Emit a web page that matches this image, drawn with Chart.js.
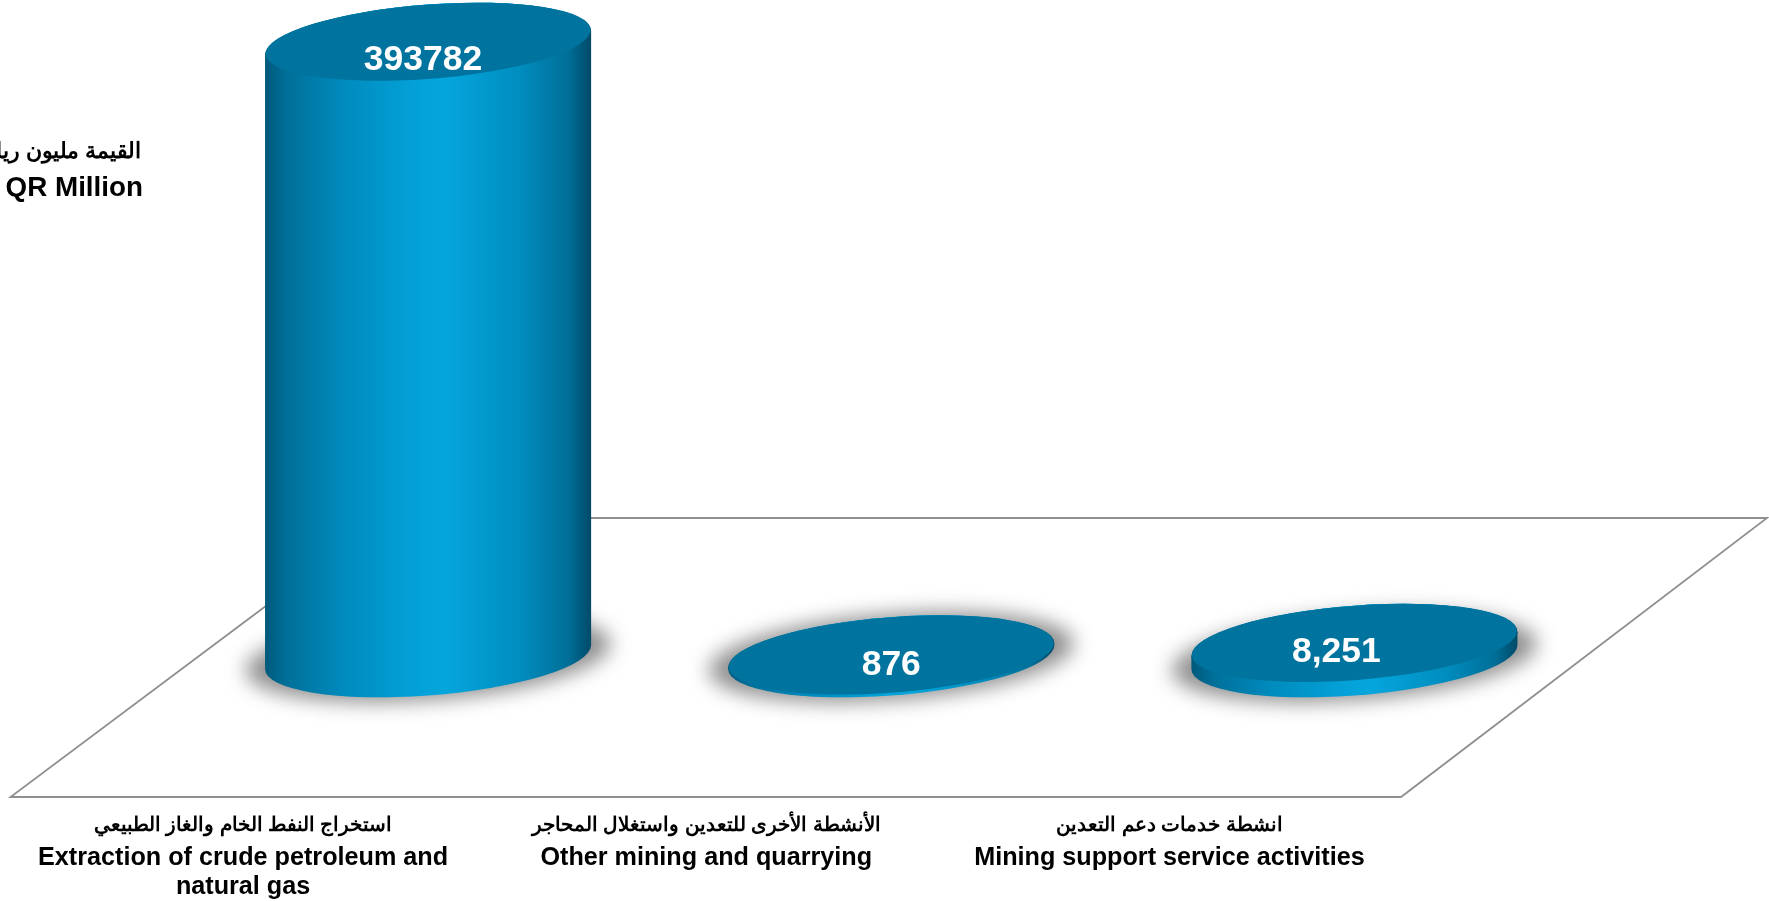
<!DOCTYPE html>
<html>
<head>
<meta charset="utf-8">
<script src="https://cdn.jsdelivr.net/npm/chart.js@4"></script>
<style>
    html, body { margin: 0; padding: 0; background: #fff; overflow: hidden; }
    canvas { display: block; }
</style>
</head>
<body>
<canvas id="chart-mining" width="1769" height="901"></canvas>
<script>
const categoriesAr = ['استخراج النفط الخام والغاز الطبيعي', 'الأنشطة الأخرى للتعدين واستغلال المحاجر', 'انشطة خدمات دعم التعدين'];
const categoriesEn = [['Extraction of crude petroleum and', 'natural gas'], ['Other mining and quarrying'], ['Mining support service activities']];
const values = [393782, 876, 8251];
const valueLabels = ['393782', '876', '8,251'];
const unitLabels = ['القيمة مليون ريال', 'QR Million'];

const FONT = '"Liberation Sans", Arial, sans-serif';
const SHEAR = 0.0736;      // tilt of the ellipses
const HALF_DEPTH = 38.5;   // vertical radius of the ellipses
const FRONT_SHIFT = 185;   // the floor front edge sits this far left of the bars
const LABEL_NUDGE = [[-5, 17], [0, 10], [-18, 8]];

// outline of one ellipse, in the sheared space of the column
function ellipsePath(ctx, y, rx, ry) {
    ctx.beginPath();
    ctx.ellipse(0, y, rx, ry, 0, 0, Math.PI * 2);
}

const cylinderPlugin = {
    id: 'cylinders',
    beforeDatasetsDraw(chart) {
        const { ctx, chartArea } = chart;
        const y0 = chart.scales.y.getPixelForValue(0);

        // floor
        const front = y0 + 140, back = y0 - 139;
        ctx.save();
        ctx.strokeStyle = '#8f8f8f';
        ctx.lineWidth = 1.8;
        ctx.beginPath();
        ctx.moveTo(chartArea.left - FRONT_SHIFT - 1, front);
        ctx.lineTo(chartArea.right - FRONT_SHIFT, front);
        ctx.lineTo(chartArea.right + 181, back);
        ctx.lineTo(chartArea.left + 187, back);
        ctx.closePath();
        ctx.stroke();
        ctx.restore();

        // soft shadow under each column
        chart.getDatasetMeta(0).data.forEach(bar => {
            ctx.save();
            ctx.translate(bar.x, 0);
            ctx.transform(1, -SHEAR, 0, 1, 0, 0);
            ctx.filter = 'blur(10px)';
            ctx.fillStyle = 'rgba(100, 100, 100, 0.72)';
            ellipsePath(ctx, bar.base, bar.width / 2 * 1.12, HALF_DEPTH * 1.12);
            ctx.fill();
            ctx.restore();
        });
    },
    afterDatasetsDraw(chart) {
        const { ctx } = chart;
        chart.getDatasetMeta(0).data.forEach((bar, i) => {
            const a = bar.width / 2;
            const top = bar.y, base = bar.base;
            const rim = Math.min(2.5, (base - top));

            ctx.save();
            ctx.translate(bar.x, 0);
            ctx.transform(1, -SHEAR, 0, 1, 0, 0);

            const side = ctx.createLinearGradient(-a, 0, a, 0);
            side.addColorStop(0, '#005a7c');
            side.addColorStop(0.07, '#00709a');
            side.addColorStop(0.25, '#008cbf');
            side.addColorStop(0.45, '#03a0d6');
            side.addColorStop(0.55, '#05a6dd');
            side.addColorStop(0.78, '#008dbf');
            side.addColorStop(0.93, '#006f98');
            side.addColorStop(1, '#004a68');

            // body
            ctx.fillStyle = side;
            ctx.beginPath();
            ctx.ellipse(0, base, a, HALF_DEPTH, 0, 0, Math.PI);
            ctx.lineTo(-a, top);
            ctx.ellipse(0, top, a, HALF_DEPTH, 0, Math.PI, Math.PI * 2);
            ctx.closePath();
            ctx.fill();

            // top face with a lit rim on the near edge
            ellipsePath(ctx, top, a, HALF_DEPTH);
            ctx.fill();
            ctx.fillStyle = '#00749e';
            ellipsePath(ctx, top - rim / 2, a - 0.5, HALF_DEPTH - rim / 2);
            ctx.fill();
            ctx.restore();

            // value on the top face
            ctx.save();
            ctx.font = 'bold 35.5px ' + FONT;
            ctx.fillStyle = '#fff';
            ctx.textAlign = 'center';
            ctx.textBaseline = 'middle';
            ctx.fillText(valueLabels[i], bar.x + LABEL_NUDGE[i][0], top + LABEL_NUDGE[i][1]);
            ctx.restore();
        });

        // unit note on the left, runs off the page like the original
        ctx.save();
        ctx.fillStyle = '#000';
        ctx.textAlign = 'right';
        ctx.textBaseline = 'middle';
        ctx.font = 'bold 22px ' + FONT;
        ctx.fillText(unitLabels[0], 141, 152);
        ctx.font = 'bold 27.8px ' + FONT;
        ctx.fillText(unitLabels[1], 143, 188);
        ctx.restore();
    }
};

new Chart(document.getElementById('chart-mining'), {
    type: 'bar',
    data: {
        labels: categoriesAr,
        datasets: [{
            data: values,
            backgroundColor: 'transparent',
            borderWidth: 0,
            categoryPercentage: 1,
            barPercentage: 0.704
        }]
    },
    options: {
        responsive: false,
        animation: false,
        layout: { padding: { left: 196.5, right: 183, top: 43, bottom: 0 } },
        plugins: { legend: { display: false }, tooltip: { enabled: false } },
        scales: {
            y: { display: false, min: 0, max: values[0] },
            x: {
                weight: 0,
                grid: { display: false, drawTicks: false },
                border: { display: false },
                afterFit: s => { s.height = 186; },
                ticks: {
                    autoSkip: false, maxRotation: 0, minRotation: 0,
                    padding: 157, labelOffset: -FRONT_SHIFT, color: '#000',
                    font: { family: FONT, size: 19.6, weight: 'bold' }
                }
            },
            xEn: {
                type: 'category',
                axis: 'x',
                position: 'bottom',
                weight: 1,
                offset: true,
                labels: categoriesEn,
                grid: { display: false, drawTicks: false },
                border: { display: false },
                afterFit: s => { s.height = 58; },
                ticks: {
                    autoSkip: false, maxRotation: 0, minRotation: 0,
                    padding: 0, labelOffset: -FRONT_SHIFT, color: '#000',
                    font: { family: FONT, size: 25.2, weight: 'bold', lineHeight: 1.17 }
                }
            }
        }
    },
    plugins: [cylinderPlugin]
});
</script>
</body>
</html>
